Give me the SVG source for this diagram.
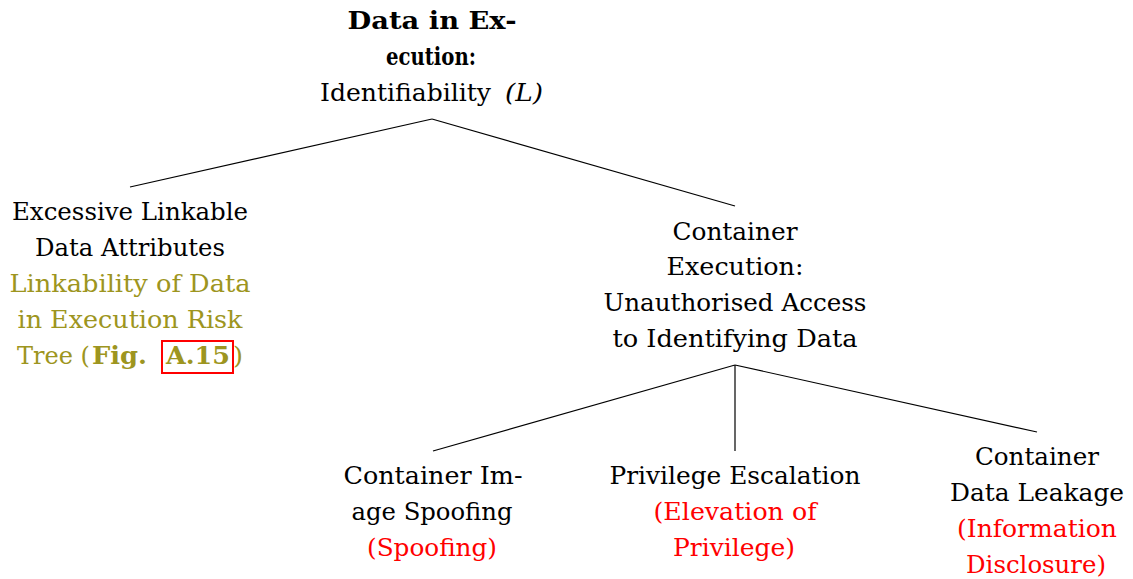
<svg xmlns="http://www.w3.org/2000/svg" width="1133" height="579" viewBox="0 0 1133 579">
<style>
text{font-family:"DejaVu Serif","Liberation Serif",serif;font-size:24px;fill:#000;text-anchor:middle}
.b{font-weight:bold}
.i{font-style:italic}
.o{fill:#9d9520}
.r{fill:#ff0000}
.e{stroke:#000;stroke-width:1.2;fill:none}
</style>
<rect width="1133" height="579" fill="#fff"/>
<g id="connectors">
<line class="e" x1="432" y1="119" x2="130" y2="187"/>
<line class="e" x1="432" y1="119" x2="735" y2="206"/>
<line class="e" x1="735" y1="365" x2="433" y2="451"/>
<line class="e" x1="735" y1="365" x2="735" y2="451"/>
<line class="e" x1="735" y1="365" x2="1037" y2="432"/>
</g>
<g id="root">
<text class="b" x="432" y="29" textLength="169" lengthAdjust="spacingAndGlyphs">Data in Ex-</text>
<text class="b" x="431" y="65" textLength="90" lengthAdjust="spacingAndGlyphs">ecution:</text>
<text y="101" style="text-anchor:start"><tspan x="320" textLength="171" lengthAdjust="spacingAndGlyphs">Identifiability</tspan><tspan class="i" x="505" textLength="38" lengthAdjust="spacingAndGlyphs">(L)</tspan></text>
</g>
<g id="excessive">
<text x="130" y="220" textLength="236" lengthAdjust="spacingAndGlyphs">Excessive Linkable</text>
<text x="130" y="256" textLength="190" lengthAdjust="spacingAndGlyphs">Data Attributes</text>
<text class="o" x="130" y="292" textLength="241" lengthAdjust="spacingAndGlyphs">Linkability of Data</text>
<text class="o" x="130" y="328" textLength="225" lengthAdjust="spacingAndGlyphs">in Execution Risk</text>
<text class="o" style="text-anchor:start" y="364"><tspan x="17" textLength="73" lengthAdjust="spacingAndGlyphs">Tree (</tspan><tspan class="b" x="92" textLength="55" lengthAdjust="spacingAndGlyphs">Fig.</tspan><tspan class="b" x="166" textLength="64" lengthAdjust="spacingAndGlyphs">A.15</tspan><tspan x="233" textLength="10" lengthAdjust="spacingAndGlyphs">)</tspan></text>
<rect x="162" y="341" width="71" height="32" fill="none" stroke="#ff0000" stroke-width="2"/>
</g>
<g id="container-exec">
<text x="735" y="240" textLength="125" lengthAdjust="spacingAndGlyphs">Container</text>
<text x="735" y="275" textLength="137" lengthAdjust="spacingAndGlyphs">Execution:</text>
<text x="735" y="311" textLength="263" lengthAdjust="spacingAndGlyphs">Unauthorised Access</text>
<text x="735" y="347" textLength="245" lengthAdjust="spacingAndGlyphs">to Identifying Data</text>
</g>
<g id="spoofing">
<text x="433" y="484" textLength="179" lengthAdjust="spacingAndGlyphs">Container Im-</text>
<text x="432" y="520" textLength="161" lengthAdjust="spacingAndGlyphs">age Spoofing</text>
<text class="r" x="432" y="556" textLength="130" lengthAdjust="spacingAndGlyphs">(Spoofing)</text>
</g>
<g id="privilege">
<text x="735" y="484" textLength="251" lengthAdjust="spacingAndGlyphs">Privilege Escalation</text>
<text class="r" x="735" y="520" textLength="163" lengthAdjust="spacingAndGlyphs">(Elevation of</text>
<text class="r" x="734" y="556" textLength="122" lengthAdjust="spacingAndGlyphs">Privilege)</text>
</g>
<g id="leakage">
<text x="1037" y="465" textLength="124" lengthAdjust="spacingAndGlyphs">Container</text>
<text x="1037" y="501" textLength="174" lengthAdjust="spacingAndGlyphs">Data Leakage</text>
<text class="r" x="1037" y="537" textLength="160" lengthAdjust="spacingAndGlyphs">(Information</text>
<text class="r" x="1036" y="573" textLength="140" lengthAdjust="spacingAndGlyphs">Disclosure)</text>
</g>
</svg>
